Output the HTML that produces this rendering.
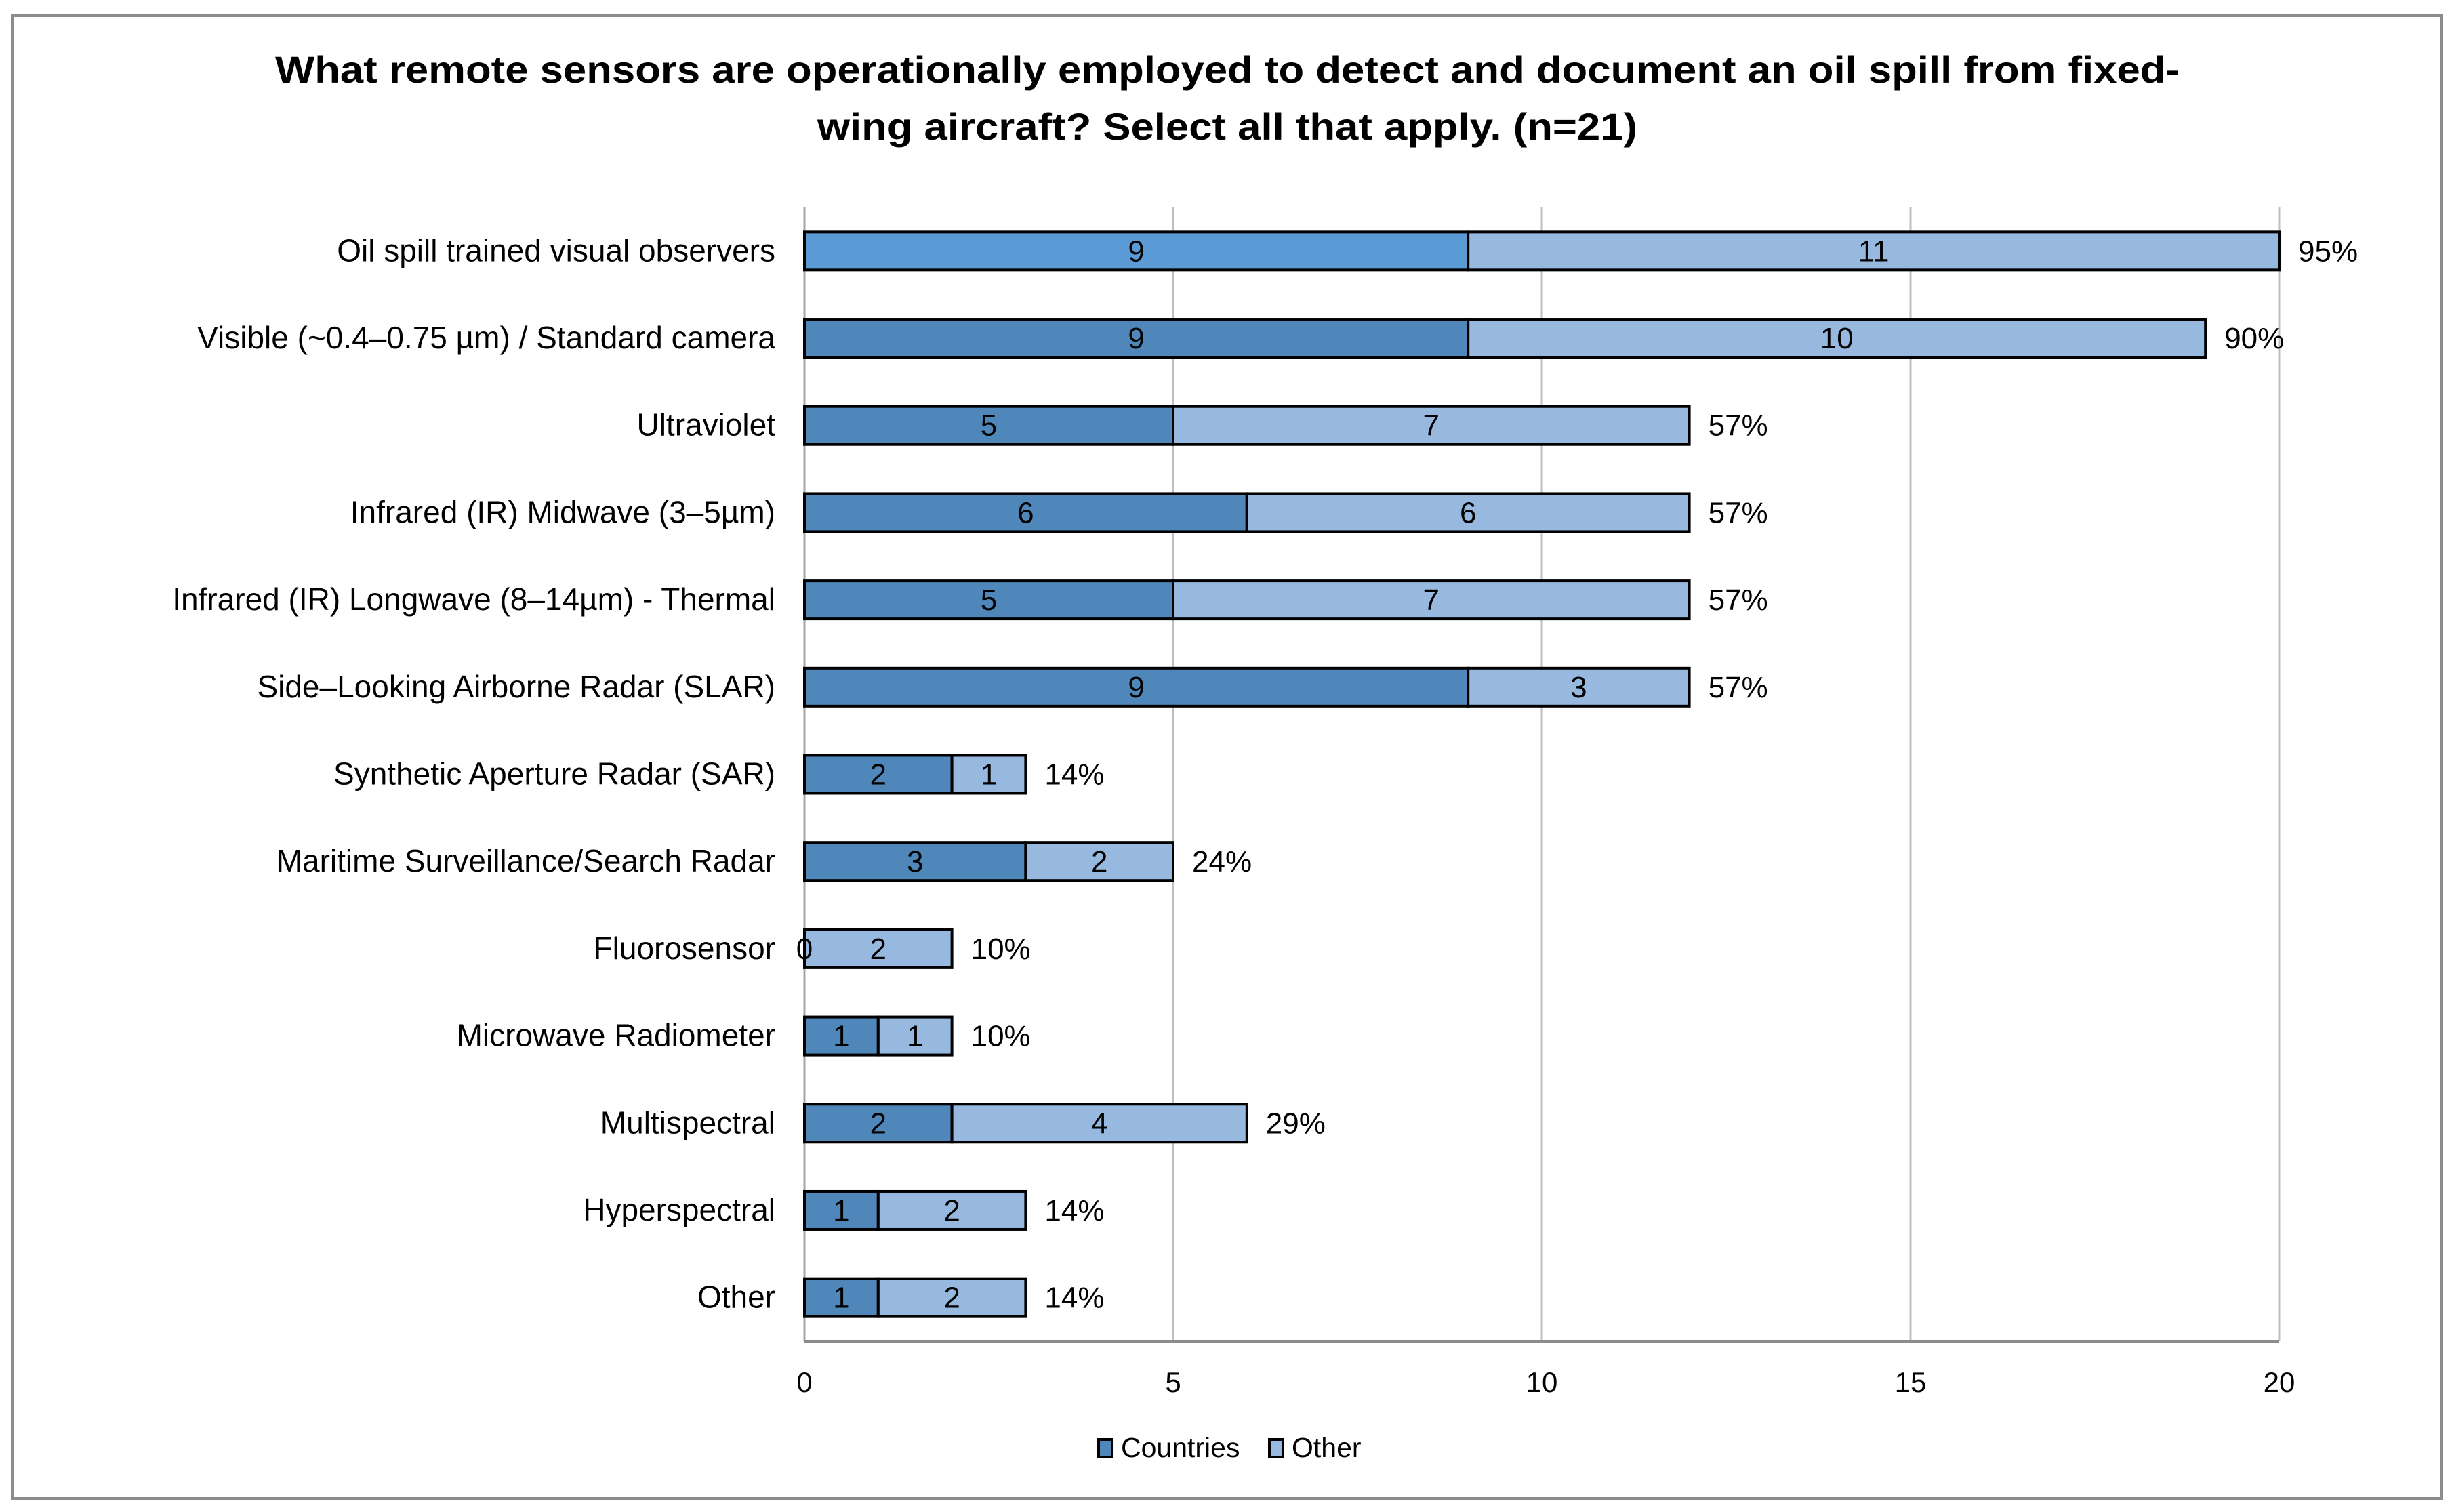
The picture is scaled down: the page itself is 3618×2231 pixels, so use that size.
<!DOCTYPE html>
<html><head><meta charset="utf-8"><style>
html,body{margin:0;padding:0;background:#fff;}
svg{display:block;font-family:"Liberation Sans",sans-serif;}
</style></head><body>
<svg id="chart" width="3618" height="2231" viewBox="0 0 3618 2231">
<rect x="18" y="23" width="3584" height="2188" fill="#fff" stroke="#8c8c8c" stroke-width="4"/>
<text x="1811" y="122" text-anchor="middle" font-size="56" font-weight="bold" textLength="2810" lengthAdjust="spacingAndGlyphs">What remote sensors are operationally employed to detect and document an oil spill from fixed-</text>
<text x="1811" y="206" text-anchor="middle" font-size="56" font-weight="bold" textLength="1210" lengthAdjust="spacingAndGlyphs">wing aircraft? Select all that apply. (n=21)</text>
<g id="grid"></g>
<g id="bars"></g>
<g id="labels"></g>
<g>
<rect x="1621" y="2124" width="20" height="26" fill="#4F87BA" stroke="#000" stroke-width="4"/>
<text x="1654" y="2150" font-size="41">Countries</text>
<rect x="1873" y="2124" width="20" height="26" fill="#98B9DF" stroke="#000" stroke-width="4"/>
<text x="1906" y="2150" font-size="41">Other</text>
</g>
</svg>
<script>
const categories = ["Oil spill trained visual observers","Visible (~0.4–0.75 µm) / Standard camera","Ultraviolet","Infrared (IR) Midwave (3–5µm)","Infrared (IR) Longwave (8–14µm) - Thermal","Side–Looking Airborne Radar (SLAR)","Synthetic Aperture Radar (SAR)","Maritime Surveillance/Search Radar","Fluorosensor","Microwave Radiometer","Multispectral","Hyperspectral","Other"];
const countries = [9,9,5,6,5,9,2,3,0,1,2,1,1];
const other = [11,10,7,6,7,3,1,2,2,1,4,2,2];
const pctLabels = ["95%","90%","57%","57%","57%","57%","14%","24%","10%","10%","29%","14%","14%"];
const xTicks = [0,5,10,15,20];

const NS="http://www.w3.org/2000/svg";
const X0=1187, X1=3363, XMAX=20, YTOP=306, YBOT=1979;
const band=(YBOT-YTOP)/categories.length, barH=56;
function xs(v){return X0+(X1-X0)*v/XMAX;}
function yc(i){return YTOP+band*(i+0.5);}
function mk(tag,attrs,parent){const e=document.createElementNS(NS,tag);for(const k in attrs)e.setAttribute(k,attrs[k]);parent.appendChild(e);return e;}
const grid=document.getElementById('grid'),bars=document.getElementById('bars'),labels=document.getElementById('labels');

xTicks.forEach(t=>{
  if(t>0){
    const l=mk('line',{x1:xs(t),x2:xs(t),y1:YTOP,y2:YBOT,stroke:'#BFBFBF','stroke-width':3},grid);
    
    
  }
  const tx=mk('text',{x:xs(t),y:2054,'text-anchor':'middle','font-size':42},grid);
  tx.textContent=t;
  
  
});
const ya=mk('line',{x1:X0,x2:X0,y1:YTOP,y2:YBOT,stroke:'#A6A6A6','stroke-width':3},grid);


const xa=mk('line',{x1:X0,x2:X1,y1:YBOT,y2:YBOT,stroke:'#8C8C8C','stroke-width':4},grid);



categories.forEach((c,i)=>{
  const y=yc(i);
  const lab=mk('text',{x:1144,y:y+15,'text-anchor':'end','font-size':46},labels);
  lab.textContent=c;
  
  
  const cv=countries[i], ov=other[i];
  const r1=mk('rect',{x:xs(0),y:y-barH/2,width:xs(cv)-xs(0),height:barH,fill:i===0?'#5B9BD5':'#4F87BA',stroke:'#000','stroke-width':4},bars);
  
  
  const r2=mk('rect',{x:xs(cv),y:y-barH/2,width:xs(cv+ov)-xs(cv),height:barH,fill:'#98B9DF',stroke:'#000','stroke-width':4},bars);
  
  
  const t1=mk('text',{x:(xs(0)+xs(cv))/2,y:y+15,'text-anchor':'middle','font-size':44},labels);
  t1.textContent=cv;
  
  
  const t2=mk('text',{x:(xs(cv)+xs(cv+ov))/2,y:y+15,'text-anchor':'middle','font-size':44},labels);
  t2.textContent=ov;
  
  
  const p=mk('text',{x:xs(cv+ov)+28,y:y+15,'font-size':44},labels);
  p.textContent=pctLabels[i];
  
  
});
</script>
</body></html>
